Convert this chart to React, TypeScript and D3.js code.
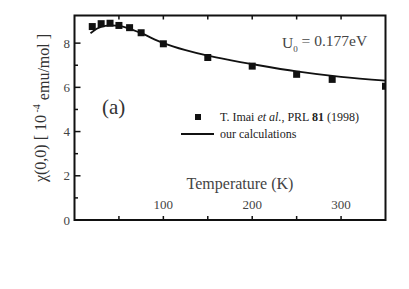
import React from "react";
import * as d3 from "d3";

const expT = [20, 30, 40, 50, 62, 75, 100, 150, 200, 250, 290, 350];
const expChi = [8.75, 8.88, 8.9, 8.8, 8.7, 8.47, 7.97, 7.35, 6.96, 6.59, 6.36, 6.05];

const calcT = [18, 25, 30, 40, 50, 60, 75, 100, 125, 150, 175, 200, 250, 300, 350];
const calcChi = [8.45, 8.65, 8.74, 8.8, 8.78, 8.68, 8.45, 8.0, 7.68, 7.43, 7.23, 7.05, 6.72, 6.47, 6.3];

const xTickLabels = [100, 200, 300];
const xMinorTicks = [50, 100, 150, 200, 250, 300];
const yTickLabels = [0, 2, 4, 6, 8];
const yMinorTicks = [1, 3, 5, 7];

const W = 409;
const H = 289;
const L = 74.5, R = 385.5, T = 15.5, B = 220;
const FONT = "'Liberation Serif', 'Times New Roman', 'DejaVu Serif', serif";
const ts = { fontFamily: FONT };

export default function App() {
  const x = d3.scaleLinear().domain([0, 350]).range([L, R]);
  const y = d3.scaleLinear().domain([0, 9.25]).range([B, T]);
  const line = d3
    .line<number>()
    .x((_, i) => x(calcT[i]))
    .y((d) => y(d))
    .curve(d3.curveCatmullRom);

  return (
    <svg
      width={W}
      height={H}
      style={{ position: "absolute", left: 0, top: 0, background: "#fff" }}
    >
      <defs>
        <clipPath id="plot">
          <rect x={L} y={T} width={R - L} height={B - T} />
        </clipPath>
      </defs>
      <path d={line(calcChi) || ""} fill="none" stroke="#111" strokeWidth={1.8} />
      <g clipPath="url(#plot)">
        {expT.map((t, i) => (
          <rect key={i} x={x(t) - 3.5} y={y(expChi[i]) - 3.5} width={7} height={7} fill="#111" />
        ))}
      </g>
      <rect x={L} y={T} width={R - L} height={B - T} fill="none" stroke="#111" strokeWidth={2} />
      {yTickLabels.map((v) => (
        <g key={"yl" + v}>
          <line x1={L} x2={L + 6} y1={y(v)} y2={y(v)} stroke="#111" strokeWidth={1.5} />
          <text x={70} y={y(v)} dy="0.35em" textAnchor="end" fontSize={13} fill="#444" style={ts}>
            {v}
          </text>
        </g>
      ))}
      {yMinorTicks.map((v) => (
        <line key={"ym" + v} x1={L} x2={L + 3.5} y1={y(v)} y2={y(v)} stroke="#111" strokeWidth={1.5} />
      ))}
      {xMinorTicks.map((v) => (
        <g key={"xm" + v}>
          <line x1={x(v)} x2={x(v)} y1={B} y2={B - 4} stroke="#111" strokeWidth={1.5} />
          <line x1={x(v)} x2={x(v)} y1={T} y2={T + 4} stroke="#111" strokeWidth={1.5} />
        </g>
      ))}
      {xTickLabels.map((v) => (
        <text key={"xl" + v} x={x(v)} y={204} dy="0.35em" textAnchor="middle" fontSize={13} fill="#444" style={ts}>
          {v}
        </text>
      ))}
      <text x={240} y={183} dy="0.35em" textAnchor="middle" fontSize={16} fill="#444" style={ts}>
        Temperature (K)
      </text>
      <text
        transform={`translate(40,108) rotate(-90)`}
        textAnchor="middle"
        dy="0.35em"
        fontSize={16}
        fill="#333"
        style={ts}
      >
        χ(0,0)  [ 10
        <tspan dy="-0.6em" fontSize={10}> -4</tspan>
        <tspan dy="0.6em"> emu/mol ]</tspan>
      </text>
      <text x={282} y={43} dy="0.35em" fontSize={15.5} fill="#444" style={ts}>
        U<tspan dy="0.35em" fontSize={9}>0</tspan>
        <tspan dy="-0.35em"> = 0.177eV</tspan>
      </text>
      <text x={102} y={107} dy="0.35em" fontSize={21} fill="#333" style={ts}>
        (a)
      </text>
      <rect x={195} y={114} width={6} height={6} fill="#111" />
      <text x={220} y={117} dy="0.35em" fontSize={12} fill="#222" style={ts}>
        T. Imai <tspan fontStyle="italic">et al.</tspan>, PRL <tspan fontWeight="bold">81</tspan> (1998)
      </text>
      <line x1={181} x2={214} y1={134} y2={134} stroke="#111" strokeWidth={2} />
      <text x={220} y={134} dy="0.35em" fontSize={12} fill="#222" style={ts}>
        our calculations
      </text>
    </svg>
  );
}
